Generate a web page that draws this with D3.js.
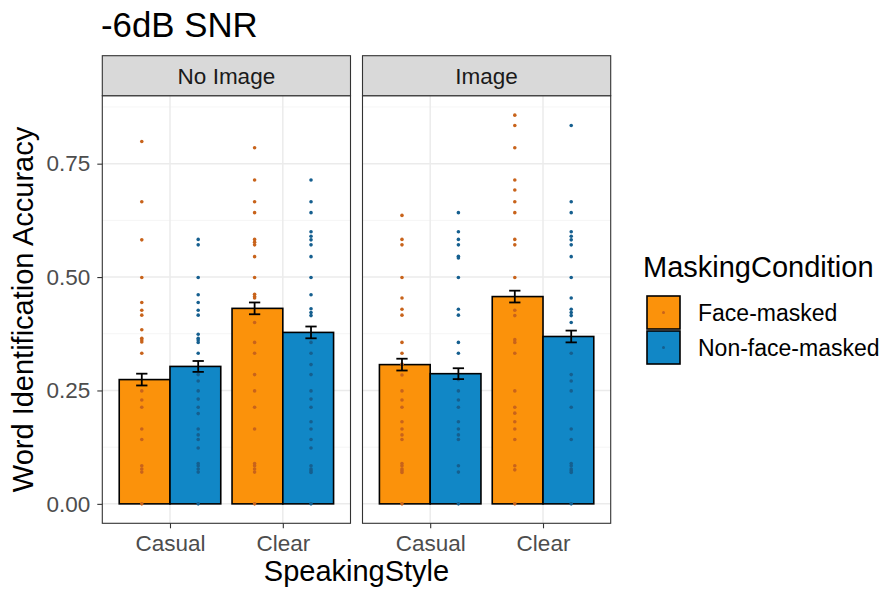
<!DOCTYPE html>
<html><head><meta charset="utf-8">
<script src="https://cdn.jsdelivr.net/npm/d3@7"></script>
<style>
body{margin:0;background:#fff;}
text{font-family:"Liberation Sans",Arial,Helvetica,sans-serif;}
</style>
</head><body>
<svg id="chart" width="881" height="590"></svg>
<script>
// ---------- data ----------
const panels = ["No Image", "Image"];
const styles = ["Casual", "Clear"];
const conditions = ["Face-masked", "Non-face-masked"];
const yTicks = [0, 0.25, 0.5, 0.75];

// means, order: [No Image Casual, No Image Clear, Image Casual, Image Clear]
const meanFace = [0.274, 0.431, 0.307, 0.457];
const meanNon  = [0.303, 0.378, 0.287, 0.369];
const seFace   = [0.013, 0.013, 0.013, 0.013];
const seNon    = [0.012, 0.013, 0.012, 0.013];

// individual points
const ptsNoImgCasualFace = [0.799,0.666,0.582,0.499,0.444,0.427,0.416,0.384,0.365,0.361,0.357,0.332,0.249,0.229,0.213,0.165,0.142,0.084,0.077,0.070,0];
const ptsNoImgCasualNon  = [0.583,0.571,0.499,0.461,0.444,0.427,0.416,0.374,0.365,0.361,0.356,0.332,0.285,0.271,0.249,0.231,0.213,0.199,0.165,0.152,0.142,0.123,0.089,0.084,0.077,0.070,0];
const ptsNoImgClearFace  = [0.785,0.714,0.666,0.642,0.583,0.577,0.571,0.545,0.499,0.462,0.457,0.454,0.400,0.356,0.332,0.285,0.249,0.213,0.165,0.089,0.084,0.077,0.070,0];
const ptsNoImgClearNon   = [0.714,0.666,0.642,0.600,0.590,0.582,0.571,0.545,0.499,0.461,0.430,0.422,0.415,0.356,0.332,0.307,0.285,0.249,0.231,0.213,0.181,0.165,0.142,0.123,0.084,0.077,0.073,0.069,0];
const ptsImgCasualFace   = [0.636,0.583,0.571,0.499,0.454,0.429,0.416,0.356,0.332,0.308,0.284,0.249,0.229,0.213,0.181,0.165,0.152,0.142,0.089,0.084,0.077,0.073,0.069,0];
const ptsImgCasualNon    = [0.642,0.600,0.583,0.571,0.546,0.542,0.499,0.429,0.416,0.356,0.332,0.274,0.249,0.229,0.213,0.181,0.165,0.152,0.142,0.084,0.070,0];
const ptsImgClearFace    = [0.857,0.834,0.785,0.714,0.692,0.666,0.642,0.583,0.571,0.499,0.427,0.415,0.362,0.356,0.332,0.249,0.213,0.200,0.181,0.165,0.142,0.084,0.075,0];
const ptsImgClearNon     = [0.834,0.666,0.642,0.600,0.590,0.582,0.571,0.545,0.499,0.454,0.429,0.422,0.415,0.400,0.332,0.285,0.271,0.249,0.213,0.165,0.142,0.089,0.084,0.077,0.073,0.069,0];

// ---------- build rows ----------
const ptsTable = [
  [ptsNoImgCasualFace, ptsNoImgCasualNon],
  [ptsNoImgClearFace,  ptsNoImgClearNon],
  [ptsImgCasualFace,   ptsImgCasualNon],
  [ptsImgClearFace,    ptsImgClearNon]
];
const summary = [];
const points = [];
panels.forEach((p, pi) => styles.forEach((s, si) => {
  const k = pi * 2 + si;
  summary.push({panel:p, style:s, cond:conditions[0], mean:meanFace[k], se:seFace[k]});
  summary.push({panel:p, style:s, cond:conditions[1], mean:meanNon[k],  se:seNon[k]});
  ptsTable[k].forEach((arr, ci) => arr.forEach(v => points.push({panel:p, style:s, cond:conditions[ci], value:v})));
}));

// ---------- layout ----------
const svg = d3.select("#chart");
const plotLeft = 102.3, plotRight = 610.7;
const stripTop = 55.7, panelTop = 95.7, panelBottom = 523.3;

const fill = d3.scaleOrdinal().domain(conditions).range(["#FB920B", "#1187C6"]);
const dotCol = d3.scaleOrdinal().domain(conditions).range(["#C8631B", "#155F8F"]);

const panelX = d3.scaleBand().domain(panels).range([plotLeft, plotRight]).paddingInner(0.0461).paddingOuter(0);
const pw = panelX.bandwidth();
const x = d3.scalePoint().domain(styles).range([0, pw]).padding(0.6);
const step = x.step();
const barX = d3.scaleBand().domain(conditions).range([-0.45 * step, 0.45 * step]).padding(0);
const ptOff = d3.scaleOrdinal().domain(conditions).range([-0.25 * step, 0.25 * step]);

const yMax = d3.max(points, d => d.value);
const yPad = 0.05 * yMax;
const y = d3.scaleLinear().domain([-yPad, yMax + yPad]).range([panelBottom, panelTop]);

const minorTicks = [0.125, 0.375, 0.625, 0.875];

// ---------- title ----------
svg.append("text").attr("x", 101).attr("y", 37).attr("font-size", 34.8).attr("fill", "#000").text("-6dB SNR");

// ---------- panels ----------
panels.forEach(p => {
  const g = svg.append("g").attr("transform", `translate(${panelX(p)},0)`);
  g.append("rect").attr("x", 0).attr("y", panelTop).attr("width", pw).attr("height", panelBottom - panelTop).attr("fill", "#fff");
  g.selectAll(".minor").data(minorTicks.filter(t => y(t) > panelTop)).join("line")
    .attr("x1", 0).attr("x2", pw).attr("y1", d => y(d)).attr("y2", d => y(d))
    .attr("stroke", "#F2F2F2").attr("stroke-width", 0.8);
  g.selectAll(".majy").data(yTicks).join("line")
    .attr("x1", 0).attr("x2", pw).attr("y1", d => y(d)).attr("y2", d => y(d))
    .attr("stroke", "#EBEBEB").attr("stroke-width", 1.5);
  g.selectAll(".majx").data(styles).join("line")
    .attr("x1", d => x(d)).attr("x2", d => x(d)).attr("y1", panelTop).attr("y2", panelBottom)
    .attr("stroke", "#EBEBEB").attr("stroke-width", 1.5);

  g.selectAll(".bar").data(summary.filter(d => d.panel === p)).join("rect")
    .attr("x", d => x(d.style) + barX(d.cond))
    .attr("width", barX.bandwidth())
    .attr("y", d => y(d.mean))
    .attr("height", d => y(0) - y(d.mean))
    .attr("fill", d => fill(d.cond))
    .attr("stroke", "#000").attr("stroke-width", 1.6);

  g.selectAll(".pt").data(points.filter(d => d.panel === p)).join("circle")
    .attr("cx", d => x(d.style) + ptOff(d.cond))
    .attr("cy", d => y(d.value))
    .attr("r", 1.8)
    .attr("fill", d => dotCol(d.cond));

  const eb = g.selectAll(".eb").data(summary.filter(d => d.panel === p)).join("g");
  const capW = 0.05 * step;
  eb.append("line")
    .attr("x1", d => x(d.style) + ptOff(d.cond)).attr("x2", d => x(d.style) + ptOff(d.cond))
    .attr("y1", d => y(d.mean - d.se)).attr("y2", d => y(d.mean + d.se))
    .attr("stroke", "#000").attr("stroke-width", 1.8);
  [-1, 1].forEach(sg => {
    eb.append("line")
      .attr("x1", d => x(d.style) + ptOff(d.cond) - capW).attr("x2", d => x(d.style) + ptOff(d.cond) + capW)
      .attr("y1", d => y(d.mean + sg * d.se)).attr("y2", d => y(d.mean + sg * d.se))
      .attr("stroke", "#000").attr("stroke-width", 1.8);
  });

  g.append("rect").attr("x", 0).attr("y", panelTop).attr("width", pw).attr("height", panelBottom - panelTop)
    .attr("fill", "none").attr("stroke", "#333").attr("stroke-width", 1.1);

  g.append("rect").attr("x", 0).attr("y", stripTop).attr("width", pw).attr("height", panelTop - stripTop)
    .attr("fill", "#D9D9D9").attr("stroke", "#333").attr("stroke-width", 1.1);
  g.append("text").attr("x", pw / 2).attr("y", (stripTop + panelTop) / 2 + 8)
    .attr("text-anchor", "middle").attr("font-size", 22.5).attr("fill", "#1A1A1A").text(p);

  const xa = g.append("g").attr("transform", `translate(0,${panelBottom})`)
    .call(d3.axisBottom(x).tickSize(5).tickPadding(7));
  xa.select(".domain").remove();
  xa.selectAll("line").attr("stroke", "#333").attr("stroke-width", 1.1);
  xa.selectAll("text").attr("font-size", 22.5).attr("fill", "#4D4D4D").attr("font-family", null);
});

const ya = svg.append("g").attr("transform", `translate(${plotLeft},0)`)
  .call(d3.axisLeft(y).tickValues(yTicks).tickFormat(d3.format(".2f")).tickSize(5).tickPadding(7));
ya.select(".domain").remove();
ya.selectAll("line").attr("stroke", "#333").attr("stroke-width", 1.1);
ya.selectAll("text").attr("font-size", 22.5).attr("fill", "#4D4D4D").attr("font-family", null);

svg.append("text").attr("x", (plotLeft + plotRight) / 2).attr("y", 581)
  .attr("text-anchor", "middle").attr("font-size", 29).attr("fill", "#000").text("SpeakingStyle");
svg.append("text").attr("transform", `translate(33,${(panelTop + panelBottom) / 2}) rotate(-90)`)
  .attr("text-anchor", "middle").attr("font-size", 29).attr("fill", "#000").text("Word Identification Accuracy");

const lg = svg.append("g");
lg.append("text").attr("x", 643).attr("y", 277).attr("font-size", 29).attr("fill", "#000").text("MaskingCondition");
const keyX = 647, keyW = 33, keyH = 33, keyY0 = 296;
conditions.forEach((c, i) => {
  const ky = keyY0 + i * (keyH + 2);
  lg.append("rect").attr("x", keyX).attr("y", ky).attr("width", keyW).attr("height", keyH)
    .attr("fill", fill(c)).attr("stroke", "#000").attr("stroke-width", 1.6);
  lg.append("circle").attr("cx", keyX + keyW / 2).attr("cy", ky + keyH / 2).attr("r", 1.5).attr("fill", dotCol(c));
  lg.append("text").attr("x", 698).attr("y", ky + keyH / 2 + 8).attr("font-size", 23).attr("fill", "#000").text(c);
});
</script>
</body></html>
